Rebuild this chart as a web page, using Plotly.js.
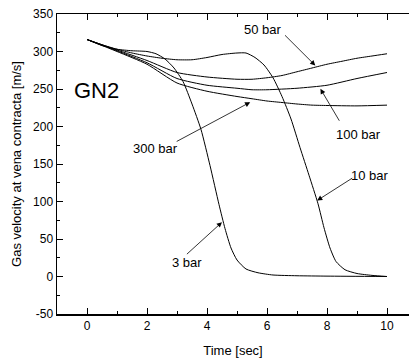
<!DOCTYPE html>
<html>
<head>
<meta charset="utf-8">
<script src="https://cdn.plot.ly/plotly-3.0.1.min.js"></script>
<style>html,body{margin:0;padding:0;overflow:hidden;background:#fff}</style>
</head>
<body>
<div id="chart" style="width:409px;height:358px"></div>
<script>
// Time [sec] and gas velocity [m/s]
const t3 = [0, 0.5, 1.0, 1.5, 2.0, 2.3, 2.6, 2.9, 3.2, 3.5, 3.8, 4.1, 4.4, 4.6, 4.8, 5.0, 5.3, 5.7, 6.2, 7.0, 8.0, 10.0];
const v3 = [316, 308, 303, 301, 300, 297, 290, 278, 260, 230, 196, 148, 96, 64, 38, 22, 10, 5, 2, 1, 0.5, 0];

const t10 = [0, 0.5, 1, 1.5, 2, 2.5, 3, 3.5, 4, 4.5, 5, 5.3, 5.6, 5.9, 6.2, 6.5, 6.8, 7.1, 7.4, 7.7, 7.9, 8.1, 8.3, 8.6, 9, 9.5, 10];
const v10 = [316, 309, 303, 298, 294, 291, 289, 289, 292, 296, 298, 298, 292, 282, 265, 240, 210, 172, 135, 97, 65, 38, 20, 9, 4, 1.5, 0];

const t50 = [0, 1, 2, 3, 4, 5, 5.5, 6, 6.5, 7, 7.5, 8, 8.5, 9, 9.5, 10];
const v50 = [316, 302, 288, 272, 266, 263, 263, 265, 268, 273, 278, 283, 287, 291, 294, 297];

const t100 = [0, 1, 2, 3, 4, 5, 5.5, 6, 7, 8, 9, 10];
const v100 = [316, 301, 285, 264, 255, 251, 249, 249, 251, 255, 264, 272];

const t300 = [0, 1, 2, 3, 4, 5, 5.5, 6, 6.5, 7, 7.5, 8, 9, 10];
const v300 = [316, 300, 283, 258, 247, 240, 237, 234, 232, 230, 228.5, 228, 227.5, 228.5];

const labels = ["3 bar", "10 bar", "50 bar", "100 bar", "300 bar"];
const yTickVals = [-50, 0, 50, 100, 150, 200, 250, 300, 350];
const yTickText = ["-50", "0", "50", "100", "150", "200", "250", "300", "350"];

const FONT = "'Liberation Sans', Arial, sans-serif";
const lineStyle = {color: '#000', width: 1, shape: 'spline', smoothing: 0.6};

const series = [[t3, v3], [t10, v10], [t50, v50], [t100, v100], [t300, v300]];
const traces = series.map((s, i) => ({
  x: s[0], y: s[1], type: 'scatter', mode: 'lines', name: labels[i],
  line: lineStyle, hoverinfo: 'skip'
}));

function label(text, x, y, size) {
  return {x: x, y: y, xref: 'x', yref: 'y', text: text, showarrow: false,
          font: {family: FONT, size: size || 13, color: '#000'}, xanchor: 'center', yanchor: 'middle'};
}
function arrow(x0, y0, x1, y1) {
  return {x: x1, y: y1, ax: x0, ay: y0, xref: 'x', yref: 'y', axref: 'x', ayref: 'y',
          text: '', showarrow: true, arrowhead: 2, arrowsize: 1.3, arrowwidth: 0.8, arrowcolor: '#000', standoff: 0, startstandoff: 0};
}

const annotations = [
  label('GN2', 0.33, 248, 22),
  label(labels[2], 5.86, 330),
  arrow(6.55, 323.6, 7.61, 281.3),
  label(labels[3], 9.04, 189),
  arrow(8.44, 205.7, 7.78, 250.3),
  label(labels[4], 2.28, 170.7),
  arrow(2.94, 179, 5.44, 232.4),
  label(labels[1], 9.44, 134.7),
  arrow(8.89, 132.4, 7.67, 101.3),
  label(labels[0], 3.33, 19),
  arrow(3.28, 28, 4.5, 72.4)
];

const layout = {
  width: 409, height: 358,
  margin: {l: 57, r: 0, t: 14, b: 44, pad: 0},
  paper_bgcolor: '#fff', plot_bgcolor: '#fff',
  showlegend: false,
  font: {family: FONT, size: 12, color: '#000'},
  xaxis: {
    range: [-1, 10.733], tick0: 0, dtick: 2,
    showgrid: false, zeroline: false,
    showline: true, linecolor: '#000', linewidth: 1.5, mirror: 'ticks',
    ticks: 'inside', ticklen: 6, tickwidth: 1, tickcolor: '#000',
    minor: {dtick: 1, ticks: 'inside', ticklen: 3, tickwidth: 1, tickcolor: '#000', showgrid: false},
    tickfont: {family: FONT, size: 12, color: '#000'},
    title: {text: 'Time [sec]', font: {family: FONT, size: 13, color: '#000'}}
  },
  yaxis: {
    range: [-50, 350], tickmode: 'array', tickvals: yTickVals, ticktext: yTickText,
    showgrid: false, zeroline: false,
    showline: true, linecolor: '#000', linewidth: 1.5, mirror: false,
    ticks: 'inside', ticklen: 6, tickwidth: 1, tickcolor: '#000',
    minor: {tick0: 0, dtick: 25, ticks: 'inside', ticklen: 3, tickwidth: 1, tickcolor: '#000', showgrid: false},
    tickfont: {family: FONT, size: 12, color: '#000'},
    title: {text: 'Gas velocity at vena contracta [m/s]', font: {family: FONT, size: 13, color: '#000'}}
  },
  annotations: annotations
};

Plotly.newPlot('chart', traces, layout, {displayModeBar: false, staticPlot: true});
</script>
</body>
</html>
